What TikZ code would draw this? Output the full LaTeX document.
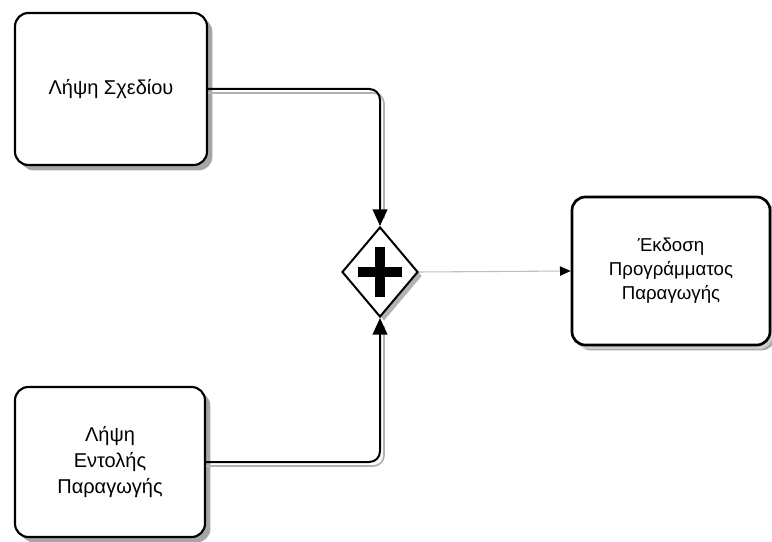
\documentclass[tikz,border=0pt]{standalone}
\usepackage{fontspec}
\setmainfont{Liberation Sans}
\usetikzlibrary{shapes.geometric,shadows,arrows.meta,calc}
\begin{document}
\begin{tikzpicture}[x=0.75pt,y=-0.75pt,
  task/.style={draw=black,line width=1.6pt,rounded corners=10pt,fill=white,
    align=center,inner sep=0pt,
    drop shadow={shadow xshift=4pt,shadow yshift=-4pt,fill=black!35,opacity=1}},
  gate/.style={draw=black,line width=1.5pt,diamond,fill=white,inner sep=0pt,
    minimum width=57pt,minimum height=67.5pt,
    drop shadow={shadow xshift=3pt,shadow yshift=-3pt,fill=black!30,opacity=1}},
  flow/.style={line width=1.5pt,rounded corners=8pt,
    -{Triangle[length=12.5pt,width=11pt]}},
  flowshade/.style={black!30,line width=1.3pt,rounded corners=8pt},
  seqflow/.style={draw=black!25,line width=0.8pt,
    -{Triangle[length=8pt,width=7pt,color=black]}},
  lbl/.style={font=\fontsize{15pt}{19.5pt}\selectfont},
  plusbar/.style={line width=7.5pt,line cap=butt}
]
\useasboundingbox (0,0) rectangle (772,542);
\fill[white] (0,0) rectangle (772,542);

% tasks
\node[task,lbl,minimum width=144pt,minimum height=114pt] (plan) at (111,89) {Λήψη Σχεδίου};
\node[task,lbl,minimum width=142.5pt,minimum height=112.5pt] (order) at (110,462) {Λήψη\\Εντολής\\Παραγωγής};
\node[task,font=\fontsize{14pt}{18pt}\selectfont,line width=2pt,
  drop shadow={shadow xshift=2pt,shadow yshift=-3pt,fill=black!15,opacity=0.8},
  minimum width=148.5pt,minimum height=111pt] (sched) at (671,271)
  {Έκδοση\\Προγράμματος\\Παραγωγής};

% parallel gateway with its plus marker
\node[gate] (join) at (380,272) {};
\draw[plusbar] ($(join.center)+(-22,0)$) -- ($(join.center)+(22,0)$);
\draw[plusbar] ($(join.center)+(0,-25)$) -- ($(join.center)+(0,25)$);

% incoming flows with their shadows
\draw[flowshade] ([yshift=-3pt]plan.east) -| ([xshift=3pt,yshift=6pt]join.north);
\draw[flowshade] ([yshift=-3pt]order.east) -| ([xshift=3pt,yshift=-6pt]join.south);
\draw[flow] (plan.east) -| (join.north);
\draw[flow] (order.east) -| (join.south);

% outgoing flow
\draw[seqflow] (join.east) -- (sched.west);
\end{tikzpicture}
\end{document}
